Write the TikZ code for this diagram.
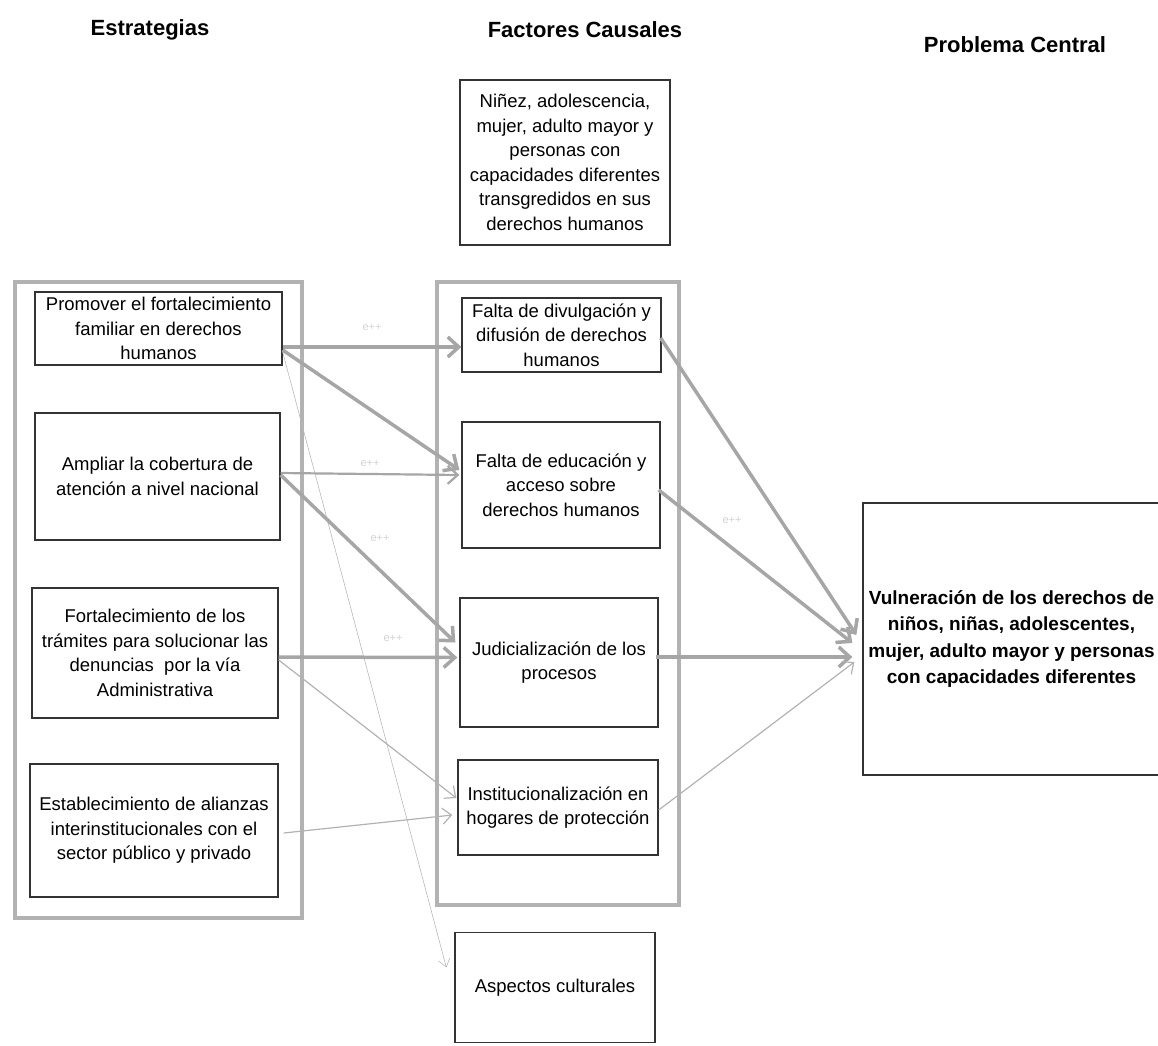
\documentclass[tikz,border=0pt]{standalone}
\usepackage{fontspec}
\setmainfont{Liberation Sans}
\usepackage{tikz}
\usetikzlibrary{arrows.meta}

\newcommand{\txtsize}{\fontsize{18.5}{24.5}\selectfont}

\begin{document}
\begin{tikzpicture}[x=1pt, y=-1pt,
    box/.style={draw=black!80, line width=1.3pt, align=center, inner sep=0pt, font=\txtsize},
    head/.style={font=\fontsize{22}{26}\selectfont\bfseries},
    group/.style={draw=gray!60, line width=4pt},
    bigarr/.style={draw=gray!70, line width=3.5pt, -{Straight Barb[length=11pt,width=20pt]}},
    midarr/.style={draw=gray!70, line width=2.2pt, -{Straight Barb[length=10pt,width=18pt]}},
    thinarr/.style={draw=gray!60, line width=1.2pt, -{Straight Barb[length=9pt,width=16pt]}},
    hairarr/.style={draw=gray!55, line width=0.6pt, -{Straight Barb[length=8pt,width=12pt]}},
    tag/.style={text=gray!35, font=\fontsize{11}{12}\selectfont}]
    \useasboundingbox (0,0) rectangle (1158,1045);

    % Headings
    \node[head] (hdest) at (150,30) {Estrategias};
    \node[head] (hdfac) at (585,30) {Factores Causales};
    \node[head] (hdprob) at (1015,45) {Problema Central};

    % Group frames
    \draw[group] (15,282) rectangle (302,918);
    \draw[group] (437,282) rectangle (679,905);

    % Strategies
    \node[box, minimum width=247, minimum height=73] (est1) at (158.5,328.5)
        {Promover el fortalecimiento\\familiar en derechos\\humanos};
    \node[box, minimum width=245, minimum height=127] (est2) at (157.5,476.5)
        {Ampliar la cobertura de\\atención a nivel nacional};
    \node[box, minimum width=246, minimum height=130] (est3) at (155,653)
        {Fortalecimiento de los\\trámites para solucionar las\\denuncias\ \ por la vía\\Administrativa};
    \node[box, minimum width=248, minimum height=133] (est4) at (154,830.5)
        {Establecimiento de alianzas\\interinstitucionales con el\\sector público y privado};

    % Causal factors
    \node[box, minimum width=210, minimum height=165] (ninez) at (565,162.5)
        {Niñez, adolescencia,\\mujer, adulto mayor y\\personas con\\capacidades diferentes\\transgredidos en sus\\derechos humanos};
    \node[box, minimum width=199, minimum height=74] (fac1) at (561.5,335)
        {Falta de divulgación y\\difusión de derechos\\humanos};
    \node[box, minimum width=198, minimum height=126] (fac2) at (561,485)
        {Falta de educación y\\acceso sobre\\derechos humanos};
    \node[box, minimum width=198, minimum height=129] (fac3) at (559,662.5)
        {Judicialización de los\\procesos};
    \node[box, minimum width=200, minimum height=95] (fac4) at (558,807.5)
        {Institucionalización en\\hogares de protección};
    \node[box, minimum width=200, minimum height=110] (cult) at (555,987.5)
        {Aspectos culturales};

    % Central problem
    \node[box, minimum width=297, minimum height=272, font=\fontsize{19}{26.5}\selectfont\bfseries] (vuln) at (1011.5,639)
        {Vulneración de los derechos de\\niños, niñas, adolescentes,\\mujer, adulto mayor y personas\\con capacidades diferentes};

    % Strategies to factors
    \draw[bigarr] ([yshift=-18.5pt]est1.east) -- ([yshift=-12pt]fac1.west);
    \draw[bigarr] ([yshift=-21.5pt]est1.east) -- ([xshift=-2pt,yshift=15pt]fac2.west);
    \draw[hairarr] ([yshift=-23.5pt]est1.east) -- ([xshift=-8pt,yshift=20pt]cult.west);
    \draw[midarr] ([yshift=3.5pt]est2.east) -- ([xshift=-2pt,yshift=10pt]fac2.west);
    \draw[bigarr] ([yshift=1.5pt]est2.east) -- ([xshift=-4pt,yshift=20pt]fac3.west);
    \draw[bigarr] ([yshift=-4pt]est3.east) -- ([xshift=-2pt,yshift=5pt]fac3.west);
    \draw[thinarr] ([yshift=-7pt]est3.east) -- ([xshift=-1pt,yshift=9.5pt]fac4.west);
    \draw[thinarr] ([xshift=5pt,yshift=-2.5pt]est4.east) -- ([xshift=-5pt,yshift=-7.5pt]fac4.west);

    % Factors to problem
    \draw[bigarr] ([xshift=-1pt,yshift=-3pt]fac1.east) -- ([xshift=-6pt,yshift=4pt]vuln.west);
    \draw[bigarr] ([xshift=-2pt,yshift=-5pt]fac2.east) -- ([xshift=-10pt,yshift=-4pt]vuln.west);
    \draw[bigarr] ([xshift=-3pt,yshift=5.5pt]fac3.east) -- ([xshift=-10pt,yshift=-18pt]vuln.west);
    \draw[thinarr] ([yshift=-2.5pt]fac4.east) -- ([xshift=-8pt,yshift=-23pt]vuln.west);

    % Faint tags
    \node[tag] (tag1) at (372,327) {e++};
    \node[tag] (tag2) at (370,463) {e++};
    \node[tag] (tag3) at (380,538) {e++};
    \node[tag] (tag4) at (393,638) {e++};
    \node[tag] (tag5) at (732,520) {e++};
\end{tikzpicture}
\end{document}
